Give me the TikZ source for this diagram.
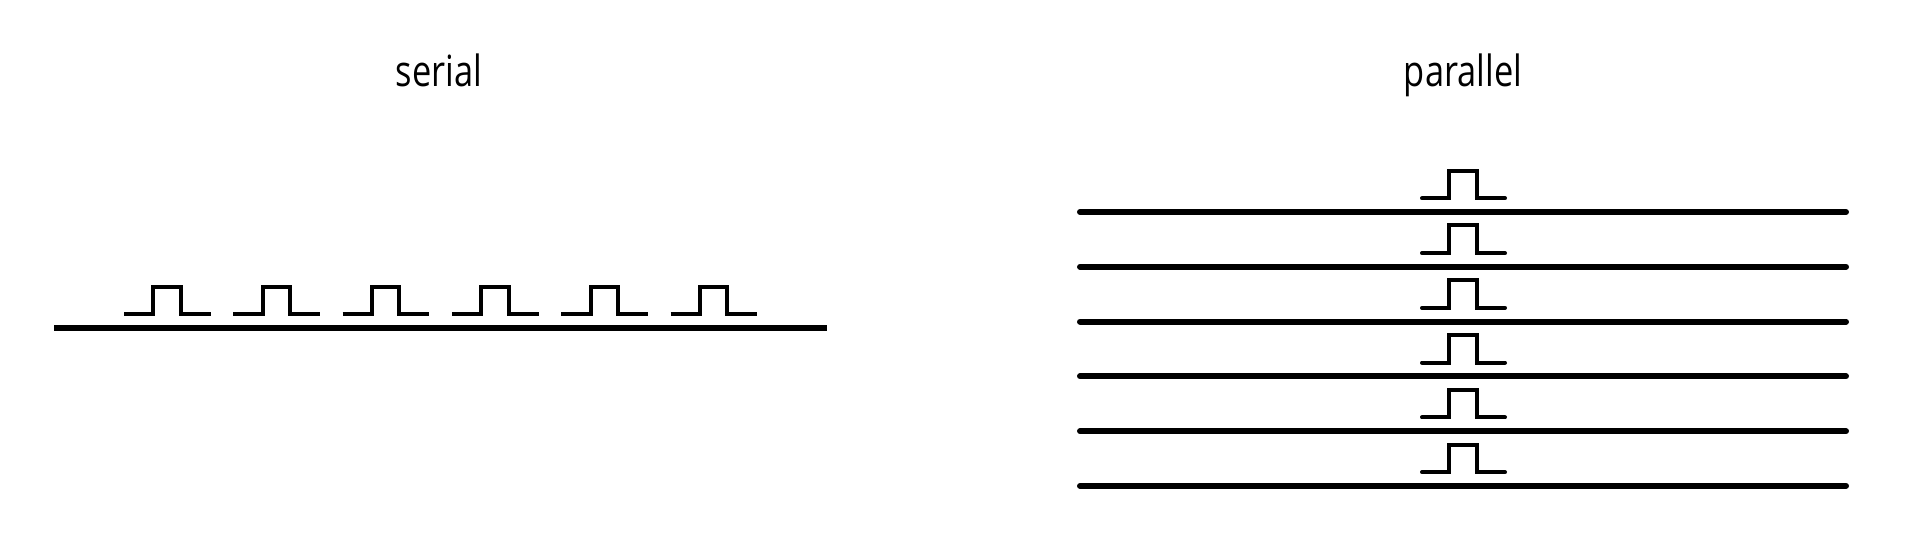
\documentclass[tikz,border=0pt]{standalone}
\usepackage{fontspec}
\setmainfont{Open Sans}[FakeStretch=0.8]
\begin{document}
\begin{tikzpicture}[x=0.5pt,y=-0.5pt]
\useasboundingbox (0,0) rectangle (1924,554);
\tikzset{wire/.style={line width=3pt}, pulse/.style={line width=2pt}, title/.style={font=\fontsize{21.5}{24}\selectfont, anchor=base, inner sep=0pt}}

\node[title] (serial) at (439,86.7) {serial};
\node[title] (parallel) at (1463,86.7) {parallel};

% serial
\draw[wire] (54,328.3) -- (827,328.3);
\foreach \i in {0,...,5}
	{\draw[pulse] ({124+109.3*\i},314.3) -- ++(29.3,0) -- ++(0,-27) -- ++(27.4,0) -- ++(0,27) -- ++(30,0);}

% parallel
\foreach \i in {0,...,5}
	{\draw[wire, line cap=round] (1080,{212+54.78*\i}) -- (1846,{212+54.78*\i});
	 \draw[pulse, line cap=round] (1422,{198.3+54.78*\i}) -- ++(27.3,0) -- ++(0,-27.6) -- ++(28,0) -- ++(0,27.6) -- ++(27.7,0);}
\end{tikzpicture}
\end{document}
